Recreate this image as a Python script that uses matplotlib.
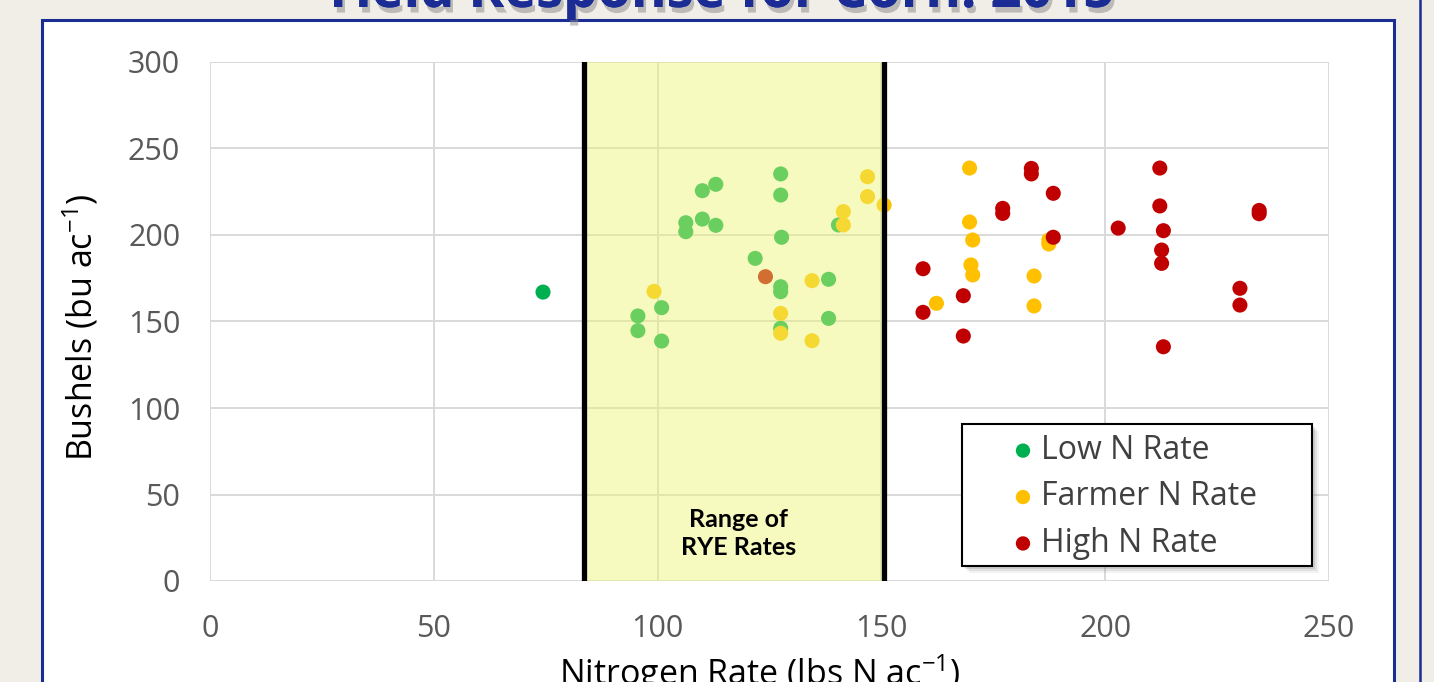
import matplotlib
matplotlib.use("Agg")
import matplotlib.pyplot as plt
import matplotlib.patheffects as pe
from matplotlib.patches import Rectangle
from matplotlib.lines import Line2D

# ---- data ----
low_x = [74.4, 113.0, 110.0, 110.0, 113.0, 106.3, 106.3, 100.9, 95.6, 95.6, 100.9,
         127.5, 127.5, 127.7, 121.8, 127.5, 127.5, 138.2, 127.5, 138.2, 140.4]
low_y = [167.0, 229.3, 225.6, 209.2, 205.6, 207.1, 201.9, 158.0, 153.2, 144.7, 138.7,
         235.3, 223.1, 198.7, 186.5, 170.1, 167.2, 174.4, 146.1, 151.8, 205.8]

farmer_x = [99.2, 134.5, 127.5, 127.5, 134.5, 146.9, 146.9, 150.6, 141.5, 141.5,
            169.7, 169.7, 170.4, 187.4, 187.4, 170.0, 170.4, 162.3, 184.1, 184.1]
farmer_y = [167.4, 173.6, 154.7, 143.2, 138.9, 233.7, 222.2, 217.3, 213.5, 205.8,
            238.7, 207.5, 197.1, 197.1, 194.8, 182.7, 176.9, 160.5, 176.3, 159.0]

high_x = [124.1, 183.5, 183.5, 188.4, 177.1, 177.1, 188.4, 159.3, 168.3, 159.3, 168.3,
          212.2, 212.2, 202.9, 213.0, 212.6, 212.6, 234.4, 234.4, 230.1, 230.1, 213.0]
high_y = [175.9, 238.5, 235.3, 224.1, 215.4, 212.5, 198.7, 180.5, 164.9, 155.3, 141.6,
          238.7, 216.8, 204.0, 202.5, 191.3, 183.6, 214.2, 212.3, 169.2, 159.5, 135.4]

series_names = ["Low N Rate", "Farmer N Rate", "High N Rate"]
series_colors = ["#00B050", "#FFC000", "#C00000"]

rye_range = [83.6, 150.6]
x_ticks = [0, 50, 100, 150, 200, 250]
y_ticks = [0, 50, 100, 150, 200, 250, 300]

title_text = "Yield Response for Corn: 2015"

# ---- figure ----
W, H = 1434, 682
fig = plt.figure(figsize=(W / 100, H / 100), dpi=100)
fig.patch.set_facecolor("#F1EEE8")

def fx(px):
    return px / W

def fy(py):
    return 1 - py / H

# white panel with blue border
panel = Rectangle((fx(42), fy(720)), fx(1394) - fx(42), fy(20) - fy(720),
                  transform=fig.transFigure, facecolor="white",
                  edgecolor="#1B2C95", linewidth=2.2, zorder=-10)
fig.add_artist(panel)
fig.add_artist(Line2D([fx(1420), fx(1420)], [0, 1], transform=fig.transFigure,
                      color="#1B2C95", linewidth=1.8, zorder=-10))

# title (clipped at the top)
t = fig.text(0.5, fy(7), title_text, ha="center", va="baseline",
             fontsize=39, fontweight="bold", color="#1B2C95", family="Open Sans",
             zorder=-5)
t.set_path_effects([pe.withSimplePatchShadow(offset=(2, -4), shadow_rgbFace="#888888", alpha=0.5),
                    pe.Normal()])

ax = fig.add_axes([fx(210), fy(581), fx(1329) - fx(210), fy(62) - fy(581)])
ax.set_zorder(1)
ax.set_facecolor("white")
ax.set_xlim(0, 250)
ax.set_ylim(0, 300)
ax.set_xticks(x_ticks)
ax.set_yticks(y_ticks)
ax.grid(True, color="#D9D9D9", linewidth=1.4, zorder=0)
ax.set_axisbelow(True)
for s in ax.spines.values():
    s.set_visible(False)
ax.tick_params(axis="both", length=0, labelsize=22, labelcolor="#595959")
ax.tick_params(axis="y", pad=21.5)
ax.tick_params(axis="x", pad=24)
for lab in ax.get_xticklabels() + ax.get_yticklabels():
    lab.set_family("Open Sans")

ax.set_ylabel("Bushels (bu ac$^{\\mathregular{-1}}$)", fontsize=24.5, family="Open Sans",
              color="#000000")
ax.yaxis.set_label_coords((100 - 210) / 1119, (581 - 327.5) / 519)
ax.set_xlabel("Nitrogen Rate (lbs N ac$^{\\mathregular{-1}}$)", fontsize=24.5, family="Open Sans",
              color="#000000", labelpad=6)
ax.xaxis.label.set_x((760 - 210) / 1119)

ms = 118
for xs, ys, name, col in zip([low_x, farmer_x, high_x], [low_y, farmer_y, high_y],
                             series_names, series_colors):
    ax.scatter(xs, ys, s=ms, color=col, edgecolors="none", label=name, zorder=3)

# semi-transparent yellow band over the points
ax.axvspan(rye_range[0], rye_range[1], color=(236 / 255, 246 / 255, 114 / 255),
           alpha=0.45, linewidth=0, zorder=4)
for xv in rye_range:
    ax.axvline(xv, color="black", linewidth=3.8, zorder=5)
ax.text(118, 27.5, "Range of\nRYE Rates", ha="center", va="center",
        fontsize=18, fontweight="bold", family="Lato", color="black",
        linespacing=1.3, zorder=6)

# legend box (frame drawn separately, with soft shadow)
for off, a in [(7, 0.10), (5, 0.15), (3, 0.22)]:
    fig.add_artist(Rectangle((fx(962 + off), fy(566 + off)), fx(1312) - fx(962),
                             fy(424) - fy(566), transform=fig.transFigure,
                             facecolor="#808080", alpha=a, edgecolor="none", zorder=8))
box = Rectangle((fx(962), fy(566)), fx(1312) - fx(962), fy(424) - fy(566),
                transform=fig.transFigure, facecolor="white",
                edgecolor="black", linewidth=1.5, zorder=9)
fig.add_artist(box)

leg = fig.legend(*ax.get_legend_handles_labels(), loc="upper left",
                 bbox_to_anchor=(fx(1011), fy(434)), bbox_transform=fig.transFigure,
                 frameon=False, prop={"family": "Open Sans", "size": 23},
                 markerscale=0.95, handlelength=0.75, handletextpad=0.2,
                 borderpad=0, borderaxespad=0, labelspacing=0.42)
leg.set_zorder(10)
for txt in leg.get_texts():
    txt.set_color("#404040")

fig.savefig("out.png", dpi=100, facecolor=fig.get_facecolor())
